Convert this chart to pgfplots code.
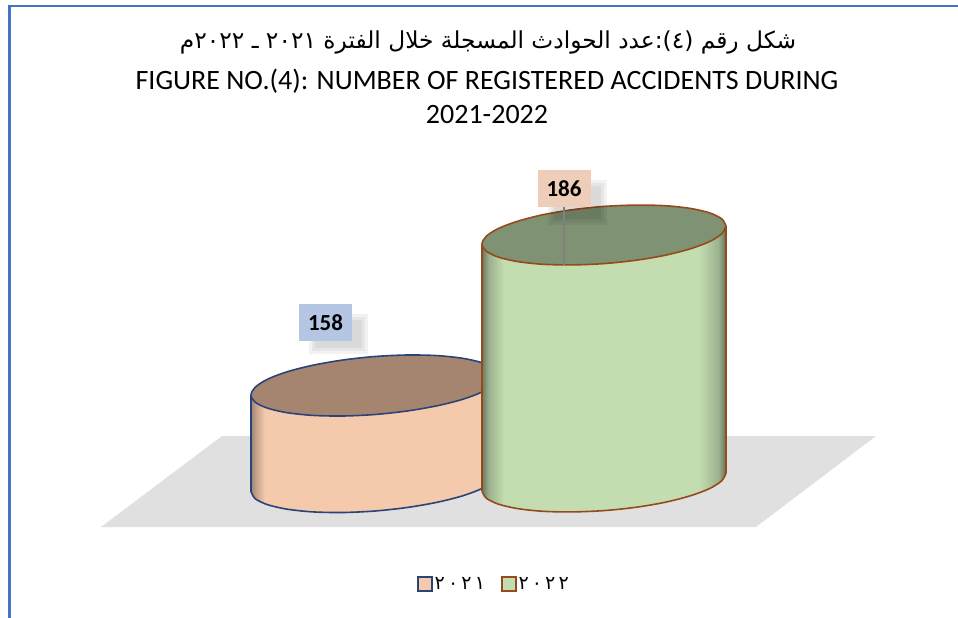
\documentclass[border=0pt]{standalone}
\usepackage{fontspec}
\usepackage{pgfplots}
\pgfplotsset{compat=1.18}
\setmainfont{Carlito}
\newfontfamily\arabicfont[Script=Arabic]{DejaVu Sans}
\TeXXeTstate=1

\definecolor{border}{HTML}{4472C4}
\definecolor{floorgrey}{HTML}{E0E0E0}
\definecolor{peach}{HTML}{F5C9AB}
\definecolor{peachtop}{HTML}{A68570}
\definecolor{navy}{HTML}{2A4478}
\definecolor{leaf}{HTML}{C3DDB0}
\definecolor{leaftop}{HTML}{7F9273}
\definecolor{rust}{HTML}{964A1C}
\definecolor{boxblue}{HTML}{B4C6E4}
\definecolor{boxpeach}{HTML}{EECDB9}

% the box of a shading maps onto 25bp..75bp
\pgfdeclarehorizontalshading{sidepeach}{100bp}{color(0bp)=(peach!55!black!85!white); color(25bp)=(peach!60!black!90!white); color(26bp)=(peach!80!black); color(27.8bp)=(peach); color(100bp)=(peach)}
\pgfdeclarehorizontalshading{sideleaf}{100bp}{color(0bp)=(leaf!55!black); color(25bp)=(leaf!55!black); color(26.4bp)=(leaf!80!black); color(29.5bp)=(leaf); color(69.5bp)=(leaf); color(73.5bp)=(leaf!80!black); color(75bp)=(leaf!50!black); color(100bp)=(leaf!50!black)}

\newcommand\softshadow[4]{%
  \addplot[forget plot, draw=none, fill=black, fill opacity=0.05] coordinates {(#1,#2) (#3,#2) (#3,#4) (#1,#4)};
  \addplot[forget plot, draw=none, fill=black, fill opacity=0.05] coordinates {(#1+3,#2+3) (#3-3,#2+3) (#3-3,#4-3) (#1+3,#4-3)};
  \addplot[forget plot, draw=none, fill=black, fill opacity=0.05] coordinates {(#1+6,#2+6) (#3-6,#2+6) (#3-6,#4-6) (#1+6,#4-6)};
}

\begin{document}
\begin{tikzpicture}
\begin{axis}[
    width=958pt, height=618pt, scale only axis,
    xmin=0, xmax=958, ymin=0, ymax=618,
    y dir=reverse,
    hide axis,
    legend style={at={(axis cs:494,584)}, anchor=center, draw=none, fill=none,
        legend columns=2, font=\arabicfont\fontsize{19}{19}\selectfont,
        /tikz/every even column/.append style={column sep=14pt}},
    legend image code/.code={\draw[#1, line width=1.5pt] (0pt,-7pt) rectangle (14pt,7pt);},
]
\path (axis cs:0,0) rectangle (axis cs:958,618);

% page frame
\addplot[forget plot, border, line width=2pt] coordinates {(8,6) (958,6)};
\addplot[forget plot, border, line width=3pt] coordinates {(9.5,618) (9.5,5)};

% floor
\addplot[forget plot, draw=none, fill=floorgrey] coordinates {(222,436) (876,436) (756,527) (101,527)};

% 2021: side
\addplot[forget plot, draw=none, shading=sidepeach] coordinates {
    (251,395) (251,491.5) (255.2,498.7) (267.6,504.7) (287.3,509.2) (313,511.9) (342.9,512.5)
    (375,511) (407.1,507.5) (437,502.3) (462.7,495.8) (482.4,488.3) (494.8,480.3) (499,472.5)
    (499,376) (494.8,383.8) (482.4,391.8) (462.7,399.3) (437,405.8) (407.1,411) (375,414.5)
    (342.9,416) (313,415.4) (287.3,412.7) (267.6,408.2) (255.2,402.2)};
\addplot[forget plot, smooth, navy, line width=1.6pt] coordinates {
    (251,491.5) (255.2,498.7) (267.6,504.7) (287.3,509.2) (313,511.9) (342.9,512.5)
    (375,511) (407.1,507.5) (437,502.3) (462.7,495.8) (482.4,488.3) (494.8,480.3) (499,472.5)};
\addplot[forget plot, navy, line width=1.6pt] coordinates {(251,395) (251,491.5)};
% 2021: top
\addplot[forget plot, smooth, draw=navy, fill=peachtop, line width=1.6pt] coordinates {
    (499,376) (494.8,383.8) (482.4,391.8) (462.7,399.3) (437,405.8) (407.1,411) (375,414.5)
    (342.9,416) (313,415.4) (287.3,412.7) (267.6,408.2) (255.2,402.2) (251,395)
    (255.2,387.2) (267.6,379.2) (287.3,371.7) (313,365.2) (342.9,360) (375,356.5)
    (407.1,355) (437,355.6) (462.7,358.3) (482.4,362.8) (494.8,368.8) (499,376)};

% 2022: side
\addplot[forget plot, draw=none, shading=sideleaf] coordinates {
    (482,244) (482,491) (486.2,498.1) (498.3,504.1) (517.7,508.6) (543,511.3) (572.4,511.9)
    (604,510.6) (635.6,507.3) (665,502.3) (690.3,495.8) (709.7,488.5) (721.8,480.7) (726,473)
    (726,226) (721.8,233.7) (709.7,241.5) (690.3,248.8) (665,255.3) (635.6,260.3) (604,263.6)
    (572.4,264.9) (543,264.3) (517.7,261.6) (498.3,257.1) (486.2,251.1)};
\addplot[forget plot, smooth, rust, line width=1.6pt] coordinates {
    (482,491) (486.2,498.1) (498.3,504.1) (517.7,508.6) (543,511.3) (572.4,511.9)
    (604,510.6) (635.6,507.3) (665,502.3) (690.3,495.8) (709.7,488.5) (721.8,480.7) (726,473)};
\addplot[forget plot, rust, line width=1.6pt] coordinates {(482,244) (482,491)};
\addplot[forget plot, rust, line width=1.6pt] coordinates {(726,226) (726,473)};
% 2022: top
\addplot[forget plot, smooth, draw=rust, fill=leaftop, line width=1.6pt] coordinates {
    (726,226) (721.8,233.7) (709.7,241.5) (690.3,248.8) (665,255.3) (635.6,260.3) (604,263.6)
    (572.4,264.9) (543,264.3) (517.7,261.6) (498.3,257.1) (486.2,251.1) (482,244)
    (486.2,236.3) (498.3,228.5) (517.7,221.2) (543,214.7) (572.4,209.7) (604,206.4)
    (635.6,205.1) (665,205.7) (690.3,208.4) (709.7,212.9) (721.8,218.9) (726,226)};

% label shadows and leader
\softshadow{309}{314}{368}{354}
\softshadow{548}{180}{607}{225}
\addplot[forget plot, gray, line width=1.2pt] coordinates {(564,207) (564,265)};

% data labels
\addplot[forget plot, draw=none, mark=none, point meta=explicit symbolic, nodes near coords,
    every node near coord/.append style={anchor=center, fill=boxblue, inner sep=0pt,
        minimum width=53pt, minimum height=37pt, text=black,
        font=\bfseries\fontsize{23}{23}\selectfont}]
    coordinates {(325.5,322.5)[158]};
\addplot[forget plot, draw=none, mark=none, point meta=explicit symbolic, nodes near coords,
    every node near coord/.append style={anchor=center, fill=boxpeach, inner sep=0pt,
        minimum width=53pt, minimum height=37pt, text=black,
        font=\bfseries\fontsize{23}{23}\selectfont}]
    coordinates {(564,188.5)[186]};

% titles
\node[font=\arabicfont\fontsize{23.3}{23.3}\selectfont] at (axis cs:488,42)
    {\beginR شكل رقم (٤):عدد الحوادث المسجلة خلال الفترة \beginL ٢٠٢١\endL{} ـ \beginL ٢٠٢٢\endL{}م\endR};
\node[font=\fontsize{28}{28}\selectfont] at (axis cs:487,81)
    {FIGURE NO.(4): NUMBER OF REGISTERED ACCIDENTS DURING};
\node[font=\fontsize{28}{28}\selectfont] at (axis cs:487,115) {2021-2022};

% legend
\addlegendimage{fill=peach, draw=navy}
\addlegendentry{٢\,٠\,٢\,١}
\addlegendimage{fill=leaf, draw=rust}
\addlegendentry{٢\,٠\,٢\,٢}
\end{axis}
\end{tikzpicture}
\end{document}
